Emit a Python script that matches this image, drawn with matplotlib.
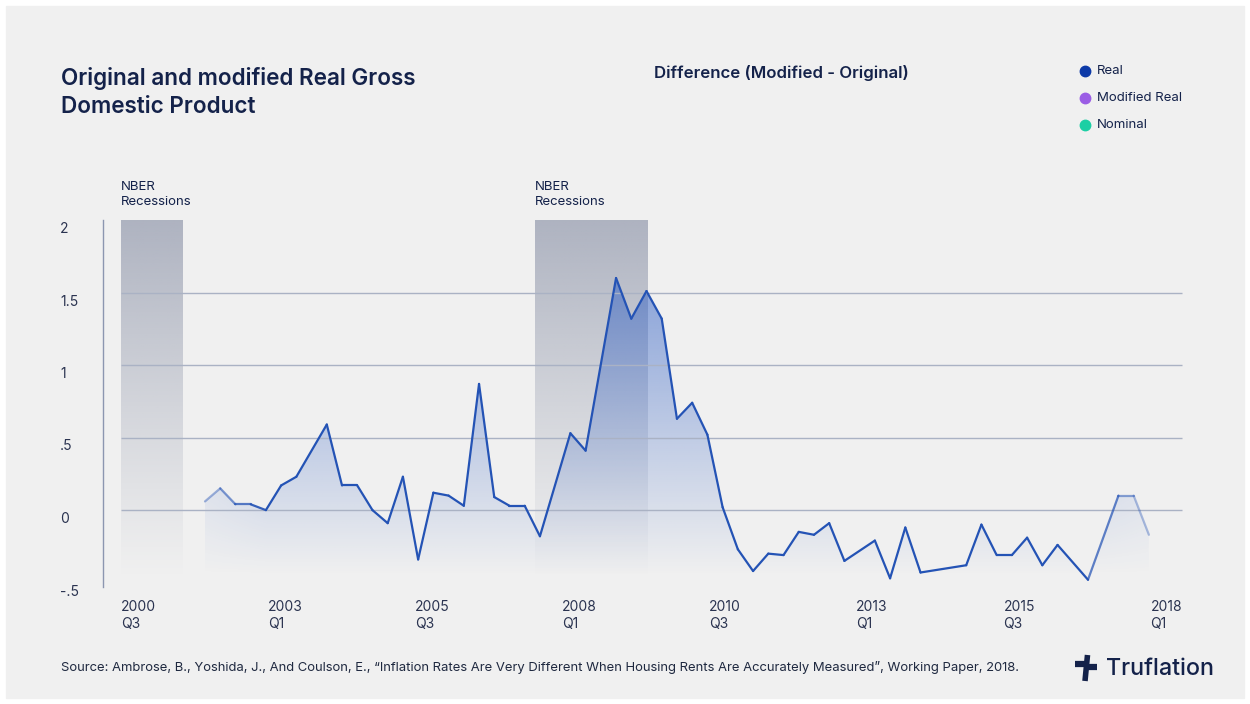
import numpy as np
import matplotlib
matplotlib.use("Agg")
import matplotlib.pyplot as plt
from matplotlib.collections import LineCollection
from matplotlib.patches import Rectangle, Polygon
from matplotlib.lines import Line2D
from matplotlib.colors import to_rgb

plt.rcParams['font.family'] = ['Inter', 'DejaVu Sans']

W, H = 1250, 704

# quarter index of each observation (0 = first quarter shown)
quarter_idx = [0, 1, 2, 3, 4, 5, 6, 8, 9, 10, 11, 12, 13, 14, 15, 16, 17, 18, 19, 20,
               21, 22, 24, 25, 27, 28, 29, 30, 31, 32, 33, 34, 35, 36, 37, 38, 39, 40,
               41, 42, 44, 45, 46, 47, 50, 51, 52, 53, 54, 55, 56, 58, 60, 61, 62]
# Real GDP difference (modified - original)
real_diff = [0.06, 0.15, 0.04, 0.04, 0.0, 0.17, 0.23, 0.59, 0.17, 0.17, 0.0, -0.09,
             0.23, -0.34, 0.12, 0.10, 0.03, 0.87, 0.09, 0.03, 0.03, -0.18, 0.53, 0.41,
             1.60, 1.32, 1.51, 1.32, 0.63, 0.74, 0.52, 0.02, -0.27, -0.42, -0.30, -0.31,
             -0.15, -0.17, -0.09, -0.35, -0.21, -0.47, -0.12, -0.43, -0.38, -0.10, -0.31,
             -0.31, -0.19, -0.38, -0.24, -0.48, 0.10, 0.10, -0.17]

x_labels = ["2000\nQ3", "2003\nQ1", "2005\nQ3", "2008\nQ1",
            "2010\nQ3", "2013\nQ1", "2015\nQ3", "2018\nQ1"]
x_label_pos = np.linspace(-5.5, 62.1, 8)
y_ticks = [2, 1.5, 1, 0.5, 0, -0.5]
y_tick_labels = ["2", "1.5", "1", ".5", "0", "-.5"]
grid_vals = [1.5, 1, 0.5, 0]

rec_start = [-5.5, 21.7]
rec_end = [-1.45, 29.1]

legend_names = ["Real", "Modified Real", "Nominal"]
legend_colors = ["#0d3aa8", "#9b5de5", "#1ccfa4"]

NAVY = "#14224a"
LINE = "#2453b5"


def fx(px):
    return px / W


def fy(py):
    return 1 - py / H


fig = plt.figure(figsize=(W / 100, H / 100), dpi=100, facecolor="white")
fig.patches.append(Rectangle((fx(6), fy(698)), 1238 / W, 692 / H,
                             transform=fig.transFigure, color="#f0f0f0", zorder=-10))

ax = fig.add_axes([fx(103), fy(587), (1190 - 103) / W, (587 - 220) / H])
ax.set_facecolor("none")
ax.set_xlim(-6.7, 64.7)
ax.set_ylim(-0.53, 2.0)
for s in ["top", "right", "bottom"]:
    ax.spines[s].set_visible(False)
ax.spines["left"].set_color("#8c96b0")
ax.spines["left"].set_linewidth(1)
ax.set_xticks([])
ax.set_yticks([])

# recession bars with vertical fade
ny = 200
yy = np.linspace(0, 1, ny)[:, None]
bar_rgba = np.zeros((ny, 2, 4))
bar_rgba[..., :3] = np.array([140, 147, 168]) / 255
bar_rgba[..., 3] = (0.66 * yy ** 1.1) * np.ones((1, 2))
for s, e in zip(rec_start, rec_end):
    ax.imshow(bar_rgba, extent=[s, e, -0.47, 2.0], origin="lower", aspect="auto",
              interpolation="bilinear", zorder=1)
    ax.text(s, 2.085, "NBER\nRecessions", ha="left", va="bottom", fontsize=9.5,
            color=NAVY, linespacing=1.35, clip_on=False)

# area under the line with gradient
x = np.array(quarter_idx, dtype=float)
y = np.array(real_diff)


def end_fade(xv):
    left = np.clip(0.35 + 0.65 * xv / 4.0, 0.35, 1)
    right = np.clip(1 - 0.7 * (xv - 57) / 5.0, 0.3, 1)
    return np.minimum(left, right)


nx = 400
gx = np.linspace(x[0], x[-1], nx)
gy = np.linspace(-0.5, 1.7, ny)
GX, GY = np.meshgrid(gx, gy)
fill_rgba = np.zeros((ny, nx, 4))
fill_rgba[..., :3] = to_rgb("#2b5cc4")
fill_rgba[..., 3] = 0.55 * np.clip((GY + 0.45) / 2.15, 0, 1) * (0.4 + 0.6 * end_fade(GX))
im = ax.imshow(fill_rgba, extent=[x[0], x[-1], -0.5, 1.7], origin="lower",
               aspect="auto", interpolation="bilinear", zorder=2)
poly = Polygon(np.vstack([[x[0], -0.5], np.column_stack([x, y]), [x[-1], -0.5]]),
               closed=True, transform=ax.transData, facecolor="none", edgecolor="none")
ax.add_patch(poly)
im.set_clip_path(poly)

ax.hlines(grid_vals, -5.5, 64.2, color="#aab2c4", lw=1, zorder=3)

pts = np.column_stack([x, y])
segs = np.stack([pts[:-1], pts[1:]], axis=1)
mids = (x[:-1] + x[1:]) / 2
seg_cols = [(*to_rgb(LINE), a) for a in end_fade(mids)]
ax.add_collection(LineCollection(segs, colors=seg_cols, linewidths=1.6, zorder=5,
                                 joinstyle="miter", capstyle="round"))

# tick labels
for v, lab in zip(y_ticks, y_tick_labels):
    ax.text(fx(60), fy(510 - v * 145 + 9), lab, transform=fig.transFigure,
            ha="left", va="center", fontsize=10, color="#2a3350")
for p, lab in zip(x_label_pos, x_labels):
    ax.text(p, -0.62, lab, ha="left", va="top", fontsize=10, color="#2a3350",
            linespacing=1.3, clip_on=False)

# titles and legend
fig.text(fx(61), fy(67), "Original and modified Real Gross\nDomestic Product",
         ha="left", va="top", fontsize=16.2, fontweight="semibold", color=NAVY,
         linespacing=1.38)
fig.text(fx(654), fy(73), "Difference (Modified - Original)", ha="left", va="center",
         fontsize=12.1, fontweight="semibold", color=NAVY)
for i, (name, col) in enumerate(zip(legend_names, legend_colors)):
    py = 71 + 27 * i
    fig.add_artist(Line2D([fx(1085)], [fy(py)], marker="o", markersize=7.5,
                          color=col, transform=fig.transFigure))
    fig.text(fx(1097), fy(py), name, ha="left", va="center", fontsize=9.5, color=NAVY)

fig.text(fx(61), fy(668),
         "Source: Ambrose, B., Yoshida, J., And Coulson, E., \u201cInflation Rates Are Very "
         "Different When Housing Rents Are Accurately Measured\u201d, Working Paper, 2018.",
         ha="left", va="center", fontsize=9.4, color="#1f2940")

# logo
for (x0, y0, x1, y1, lw) in [(1075, 664, 1088, 664, 4.5), (1087.5, 655, 1085, 681, 4.0),
                             (1086, 667, 1097, 667, 4.5)]:
    fig.add_artist(Line2D([fx(x0), fx(x1)], [fy(y0), fy(y1)], lw=lw, color=NAVY,
                          solid_capstyle="butt", transform=fig.transFigure))
fig.text(fx(1106), fy(669), "Truflation", ha="left", va="center", fontsize=16.8,
         fontweight="medium", color=NAVY)

fig.savefig("out.png", dpi=100, facecolor=fig.get_facecolor())
